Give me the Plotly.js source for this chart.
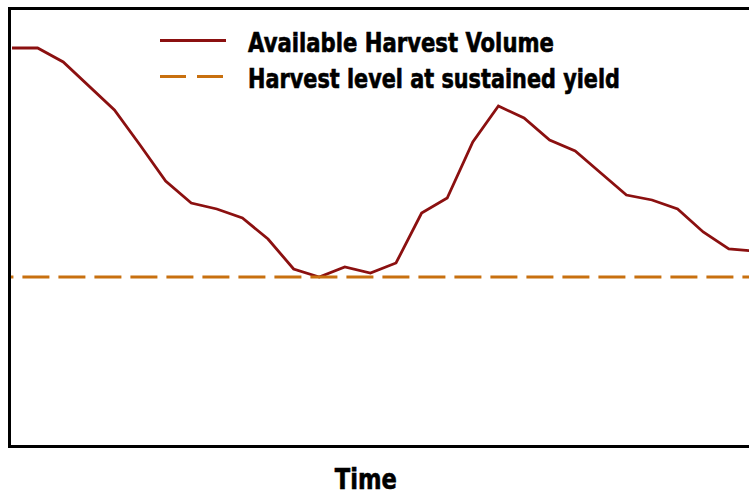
<!DOCTYPE html>
<html>
<head>
<meta charset="utf-8">
<script src="https://cdn.plot.ly/plotly-3.0.1.min.js"></script>
<style>
html,body{margin:0;padding:0;overflow:hidden;background:#fff;}
#chart{width:800px;height:497px;}
</style>
</head>
<body>
<div id="chart"></div>
<script>
// Data (time steps and relative volume)
const timeSteps = [0,1,2,3,4,5,6,7,8,9,10,11,12,13,14,15,16,17,18,19,20,21,22,23,24,25,26,27,28,29];
const availableVolume = [397,397,383,359,335,300,264,242,236,227,206,176,168,178,172,182,232,247,303,339,327,305,294,272,250,245,236,213,196,194];
const sustainedYieldLevel = 168;
const seriesNames = ["Available Harvest Volume", "Harvest level at sustained yield"];
const xAxisLabel = "Time";

const W = 800, H = 497;
const M = {l: 11, r: 20, t: 10, b: 52};
const plotW = W - M.l - M.r;
const plotH = H - M.t - M.b;
const px = x => (x - M.l) / plotW;       // pixel -> paper x
const py = y => (H - M.b - y) / plotH;   // pixel -> paper y

const red = "#8B1010";
const orange = "#C8700F";
const font = "'DejaVu Sans Condensed', 'Liberation Sans Narrow', Arial, sans-serif";

const traces = [
  {
    x: timeSteps,
    y: availableVolume,
    type: "scatter",
    mode: "lines",
    name: seriesNames[0],
    line: {color: red, width: 2.8},
    showlegend: false,
    hoverinfo: "skip"
  },
  {
    x: [timeSteps[0] - 1, timeSteps[timeSteps.length - 1] + 1],
    y: [sustainedYieldLevel, sustainedYieldLevel],
    type: "scatter",
    mode: "lines",
    name: seriesNames[1],
    line: {color: orange, width: 3, dash: "27px,9px"},
    showlegend: false,
    hoverinfo: "skip"
  }
];

const layout = {
  width: W,
  height: H,
  margin: M,
  paper_bgcolor: "#fff",
  plot_bgcolor: "#fff",
  showlegend: false,
  xaxis: {
    range: [-0.04, 30],
    showgrid: false, zeroline: false, showticklabels: false, ticks: "",
    showline: true, linecolor: "#000", linewidth: 3, mirror: true
  },
  yaxis: {
    range: [0, 435],
    showgrid: false, zeroline: false, showticklabels: false, ticks: "",
    showline: true, linecolor: "#000", linewidth: 3, mirror: true
  },
  shapes: [
    {type: "line", xref: "paper", yref: "paper", x0: px(160), x1: px(226), y0: py(40.5), y1: py(40.5),
     line: {color: red, width: 2.8}},
    {type: "line", xref: "paper", yref: "paper", x0: px(160), x1: px(226), y0: py(76.5), y1: py(76.5),
     line: {color: orange, width: 3, dash: "26px,11px"}}
  ],
  annotations: [
    {xref: "paper", yref: "paper", x: px(246), y: py(43), xanchor: "left", yanchor: "middle",
     text: "<b>" + seriesNames[0] + "</b>", showarrow: false,
     font: {family: font, size: 26, color: "#000"}},
    {xref: "paper", yref: "paper", x: px(246), y: py(79), xanchor: "left", yanchor: "middle",
     text: "<b>" + seriesNames[1] + "</b>", showarrow: false,
     font: {family: font, size: 26, color: "#000"}},
    {xref: "paper", yref: "paper", x: px(366), y: py(479), xanchor: "center", yanchor: "middle",
     text: "<b>" + xAxisLabel + "</b>", showarrow: false,
     font: {family: font, size: 29, color: "#000"}}
  ]
};

// target rendered widths of the condensed labels (pixels)
const targetWidths = [306, 372, 62];
const anchors = ["left", "left", "center"];

Plotly.newPlot("chart", traces, layout, {staticPlot: true, displayModeBar: false}).then(gd => {
  const texts = gd.querySelectorAll("g.annotation text.annotation-text");
  texts.forEach((t, i) => {
    const bb = t.getBBox();
    if (!bb.width) return;
    const s = targetWidths[i] / bb.width;
    const ax = anchors[i] === "left" ? bb.x : bb.x + bb.width / 2;
    t.setAttribute("transform", `translate(${ax},0) scale(${s},1) translate(${-ax},0)`);
    t.style.stroke = "#000";
    t.style.strokeWidth = "0.6px";
  });
});
</script>
</body>
</html>
